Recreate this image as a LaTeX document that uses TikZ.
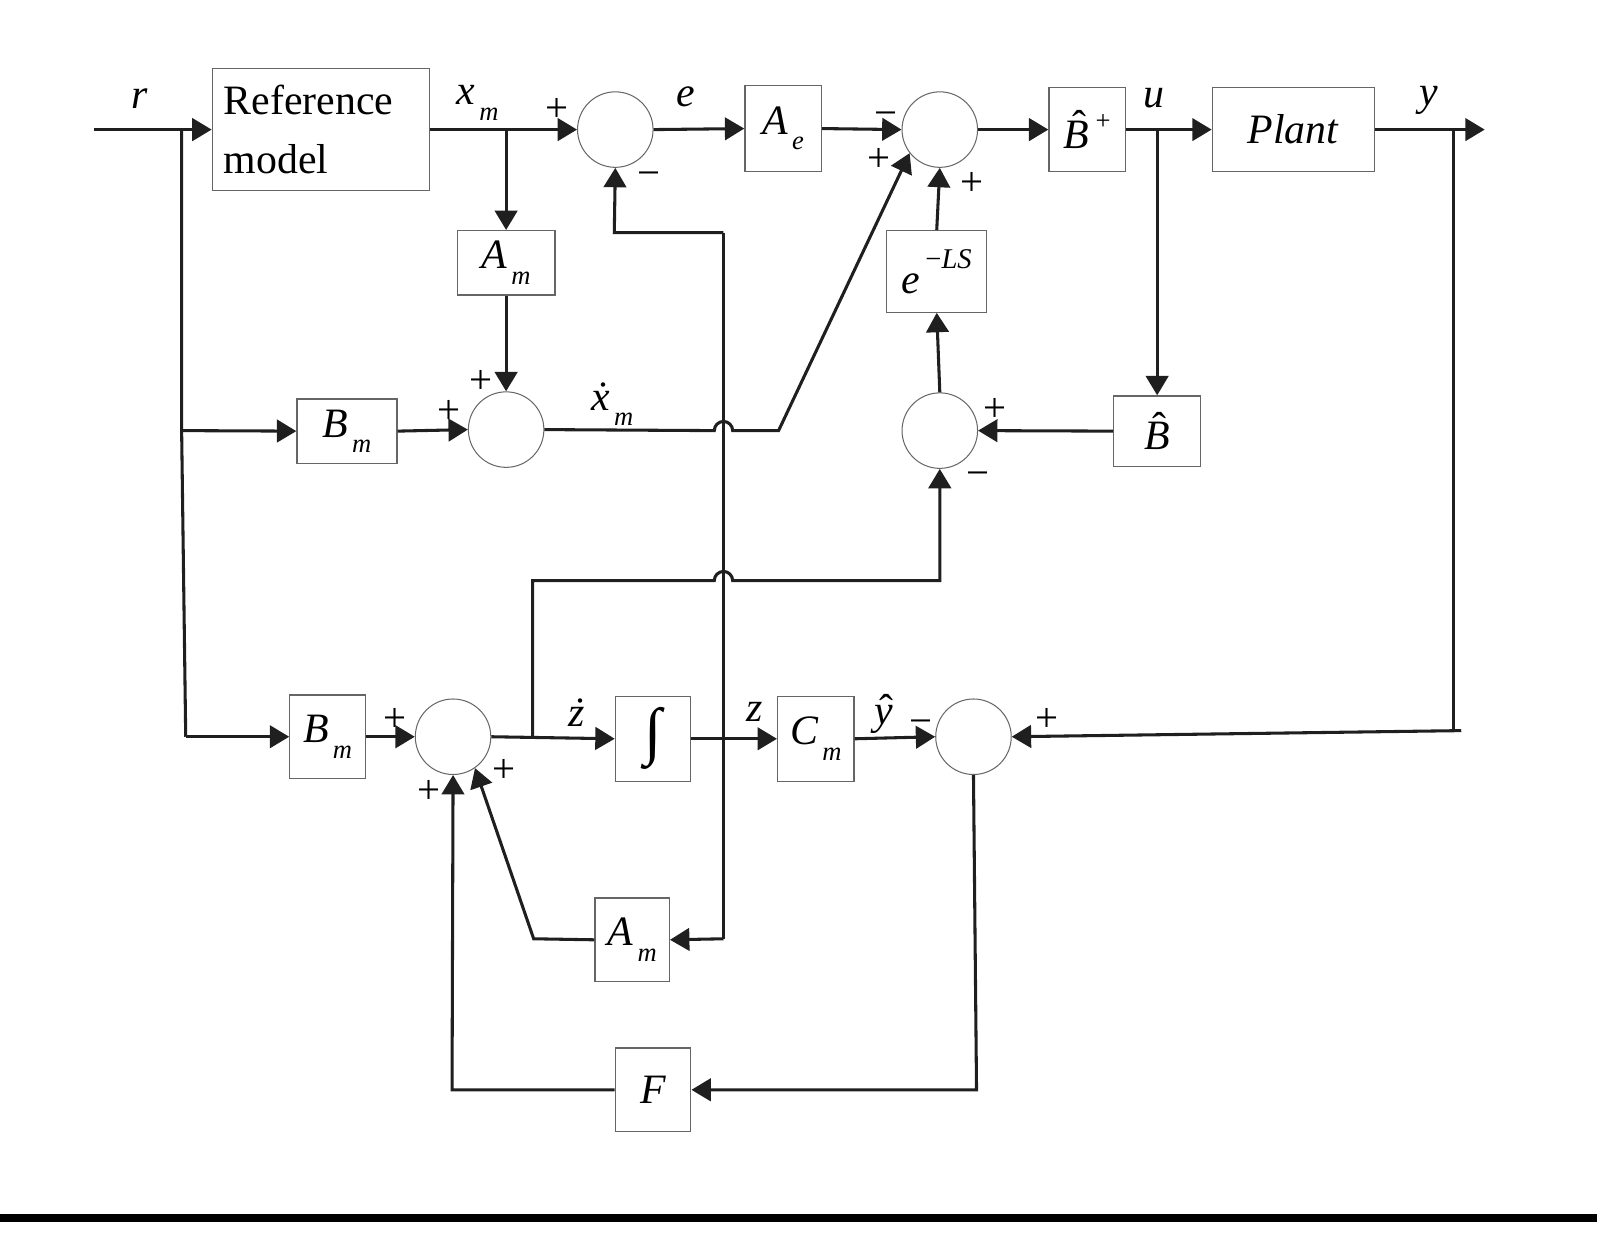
\documentclass[tikz,border=0pt]{standalone}
\usepackage{fontspec}
\setmainfont{Liberation Serif}
\usetikzlibrary{arrows.meta}

% italic symbol with a lowered subscript
\newcommand\subsc[2]{\textit{#1}\kern0.1em\raisebox{-0.37em}{\fontsize{26}{26}\selectfont\textit{#2}}}
% symbol with an accent placed over it: base, accent, shift, raise
\newcommand\marked[4]{\leavevmode\rlap{\kern#3\raisebox{#4}{\textup{#2}}}\textit{#1}}

\tikzset{
  blk/.style={draw=black!60, line width=1.2pt, inner sep=0pt,
    font=\fontsize{41}{41}\selectfont},
  sumc/.style={circle, draw=black!60, line width=1pt, minimum size=74pt, inner sep=0pt},
  wire/.style={line width=3pt, draw=black!88},
  sig/.style={wire, -{Triangle[length=19pt,width=22pt]}},
  sgn/.style={inner sep=0pt, font=\fontsize{40}{40}\selectfont},
  lab/.style={inner sep=0pt, font=\fontsize{41}{41}\selectfont},
}

\begin{document}
\begin{tikzpicture}[x=1pt,y=-1pt]
\useasboundingbox (0,0) rectangle (1568,1215);

% ---- blocks ----
\node[blk, minimum width=213pt, minimum height=120pt, text width=190pt, align=left,
      font=\fontsize{41}{58}\selectfont] (refm) at (314.5,127) {Reference\\model};
\node[sumc] (sum1) at (603,127) {};
\node[blk, minimum width=75pt, minimum height=84pt] (Ae) at (767.5,126) {\subsc{A}{e}};
\node[sumc] (sum2) at (921,127) {};
\node[blk, minimum width=75pt, minimum height=82pt] (Bp) at (1065.5,127)
  {\marked{B}{ˆ}{0.2em}{0.2em}\kern0.15em\raisebox{0.45em}{\fontsize{26}{26}\selectfont +}};
\node[blk, minimum width=159pt, minimum height=82pt] (plant) at (1267.5,127) {\textit{Plant}};

\node[blk, minimum width=96pt, minimum height=63pt] (Am1) at (496,257.5) {\subsc{A}{m}};
\node[sumc] (sum3) at (496,421) {};
\node[blk, minimum width=98pt, minimum height=63pt] (Bm1) at (340,422.5) {\subsc{B}{m}};

\node[blk, minimum width=98pt, minimum height=80pt] (eLS) at (918,266)
  {\textit{e}\kern0.12em\raisebox{0.6em}{\fontsize{28}{28}\selectfont −\textit{LS}}};
\node[sumc] (sumD) at (921,422) {};
\node[blk, minimum width=85pt, minimum height=69pt] (Bhat) at (1134,422.5) {\marked{B}{ˆ}{0.2em}{0.2em}};

\node[blk, minimum width=74pt, minimum height=82pt] (Bm2) at (321,722) {\subsc{B}{m}};
\node[sumc] (sumE) at (444,722) {};
\node[blk, minimum width=74pt, minimum height=83pt, font=\fontsize{62}{62}\selectfont] (integ) at (640,724) {∫};
\node[blk, minimum width=75pt, minimum height=83pt] (Cm) at (799.5,724) {\subsc{C}{m}};
\node[sumc] (sumF) at (954,722) {};

\node[blk, minimum width=73pt, minimum height=82pt] (Am2) at (619.5,921) {\subsc{A}{m}};
\node[blk, minimum width=74pt, minimum height=82pt] (F) at (640,1068) {\textit{F}};

% ---- junctions and free ends ----
\coordinate (rin) at (92,127);
\coordinate (rsplit) at (178,127);
\coordinate (rmid) at (178,422);
\coordinate (rlow) at (182,722);
\coordinate (xmsplit) at (496,127);
\coordinate (usplit) at (1134,127);
\coordinate (ysplit) at (1424,127);
\coordinate (yout) at (1455,127);
\coordinate (ydown) at (1424,716);
\coordinate (yturn) at (1432,716);
\coordinate (xdbend) at (763,422);
\coordinate (zdsplit) at (522,722);
\coordinate (zdtop) at (522,569);
\coordinate (zdcorner) at (921,569);
\coordinate (zsplit) at (709,722);
\coordinate (ztop) at (709,228);
\coordinate (zcorner) at (602,228);
\coordinate (zlow) at (709,920);
\coordinate (fbr) at (957,1068);
\coordinate (fbl) at (443,1068);
\coordinate (ambend) at (523,920);

% ---- top row ----
\draw[sig] (rin) -- (refm.west);
\draw[sig] (refm.east) -- (sum1.west);
\draw[sig] (xmsplit) -- (Am1.north);
\draw[sig] (sum1.east) -- (Ae.west);
\draw[sig] (Ae.east) -- (sum2.west);
\draw[sig] (sum2.east) -- (Bp.west);
\draw[sig] (Bp.east) -- (plant.west);
\draw[sig] (usplit) -- (Bhat.north);
\draw[sig] (plant.east) -- (yout);
\draw[wire] (ysplit) -- (ydown) -- (yturn);
\draw[sig] (yturn) -- (sumF.east);

% ---- reference input branches ----
\draw[wire] (rsplit) -- (rmid) -- (rlow);
\draw[sig] (rmid) -- (Bm1.west);
\draw[sig] (rlow) -- (Bm2.west);

% ---- model derivative ----
\draw[sig] (Bm1.east) -- (sum3.west);
\draw[sig] (Am1.south) -- (sum3.north);
\draw[sig] (sum3.east) -- (700,422) arc[start angle=180, end angle=360, radius=9]
  -- (xdbend) -- (sum2.218);

% ---- delay path ----
\draw[sig] (Bhat.west) -- (sumD.east);
\draw[sig] (sumD.north) -- (eLS.south);
\draw[sig] (eLS.north) -- (sum2.south);

% ---- observer row ----
\draw[sig] (Bm2.east) -- (sumE.west);
\draw[sig] (sumE.east) -- (integ.west);
\draw[sig] (zdsplit) -- (zdtop) -- (700,569) arc[start angle=180, end angle=360, radius=9]
  -- (zdcorner) -- (sumD.south);
\draw[sig] (integ.east) -- (Cm.west);
\draw[sig] (Cm.east) -- (sumF.west);
\draw[wire] (ztop) -- (zlow);
\draw[sig] (ztop) -- (zcorner) -- (sum1.south);
\draw[sig] (zlow) -- (Am2.east);
\draw[sig] (Am2.west) -- (ambend) -- (sumE.305);
\draw[sig] (sumF.south) -- (fbr) -- (F.east);
\draw[sig] (F.west) -- (fbl) -- (sumE.south);

% ---- signal names ----
\node[lab] (lr) at (137,97) {\textit{r}};
\node[lab] (lxm) at (468,101) {\subsc{x}{m}};
\node[lab] (le) at (672,95) {\textit{e}};
\node[lab] (lu) at (1131,96) {\textit{u}};
\node[lab] (ly) at (1400,98) {\textit{y}};
\node[lab] (lxdm) at (600,396) {\subsc{\marked{x}{˙}{0.12em}{0em}}{m}};
\node[lab] (lzd) at (565,698) {\marked{z}{˙}{0.12em}{0em}};
\node[lab] (lz) at (740,698) {\textit{z}};
\node[lab] (lyh) at (866,700) {\marked{y}{ˆ}{0.12em}{0.02em}};

% ---- summing signs ----
\node[sgn] (s1a) at (546,108) {+};
\node[sgn] (s1b) at (636,176) {−};
\node[sgn] (s2a) at (868,117) {−};
\node[sgn] (s2b) at (861,157) {+};
\node[sgn] (s2c) at (953,180) {+};
\node[sgn] (s3a) at (471,374) {+};
\node[sgn] (s3b) at (440,404) {+};
\node[sgn] (sDa) at (975,402) {+};
\node[sgn] (sDb) at (958,470) {−};
\node[sgn] (sEa) at (387,706) {+};
\node[sgn] (sEb) at (420,776) {+};
\node[sgn] (sEc) at (494,756) {+};
\node[sgn] (sFa) at (903,713) {−};
\node[sgn] (sFb) at (1026,706) {+};

% ---- rule under the figure ----
\fill[black] (0,1190) rectangle (1565,1198);
\end{tikzpicture}
\end{document}
